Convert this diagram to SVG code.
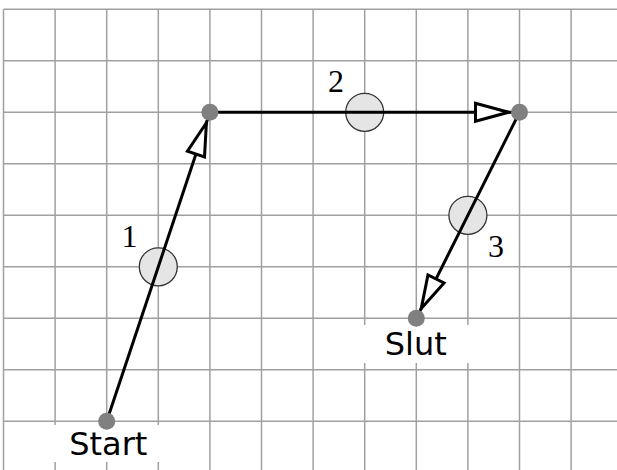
<svg xmlns="http://www.w3.org/2000/svg" width="617" height="470" viewBox="0 0 617 470">
<style>
.grid line{stroke:#a0a0a0;stroke-width:1.5}
.edge{stroke:#000;stroke-width:3;fill:none}
.mid{fill:#e5e5e5;stroke:#333;stroke-width:1.3}
.dot{fill:#808080}
.num{font-family:"Liberation Serif",serif;font-size:32px;fill:#000;text-anchor:middle}
.lbl{font-family:"DejaVu Sans",sans-serif;font-size:32px;fill:#000;text-anchor:middle}
</style>
<defs>
<marker id="arr" markerUnits="userSpaceOnUse" markerWidth="60" markerHeight="30" viewBox="-50 -15 60 30" refX="0" refY="0" orient="auto" overflow="visible">
<path d="M-11,0 L-44,-9 L-44,9 Z" fill="#fff" stroke="#000" stroke-width="3" stroke-linejoin="miter"/>
</marker>
</defs>
<rect width="617" height="470" fill="#fff"/>
<g class="grid">
<line x1="3.5" y1="9.3" x2="3.5" y2="470"/>
<line x1="55.1" y1="9.3" x2="55.1" y2="470"/>
<line x1="106.7" y1="9.3" x2="106.7" y2="470"/>
<line x1="158.3" y1="9.3" x2="158.3" y2="470"/>
<line x1="209.9" y1="9.3" x2="209.9" y2="470"/>
<line x1="261.5" y1="9.3" x2="261.5" y2="470"/>
<line x1="313.1" y1="9.3" x2="313.1" y2="470"/>
<line x1="364.7" y1="9.3" x2="364.7" y2="470"/>
<line x1="416.3" y1="9.3" x2="416.3" y2="470"/>
<line x1="467.9" y1="9.3" x2="467.9" y2="470"/>
<line x1="519.5" y1="9.3" x2="519.5" y2="470"/>
<line x1="571.1" y1="9.3" x2="571.1" y2="470"/>
<line x1="3.5" y1="9.3" x2="617" y2="9.3"/>
<line x1="3.5" y1="60.8" x2="617" y2="60.8"/>
<line x1="3.5" y1="112.3" x2="617" y2="112.3"/>
<line x1="3.5" y1="163.8" x2="617" y2="163.8"/>
<line x1="3.5" y1="215.3" x2="617" y2="215.3"/>
<line x1="3.5" y1="266.8" x2="617" y2="266.8"/>
<line x1="3.5" y1="318.3" x2="617" y2="318.3"/>
<line x1="3.5" y1="369.8" x2="617" y2="369.8"/>
<line x1="3.5" y1="421.3" x2="617" y2="421.3"/>
</g>
<rect x="53" y="425" width="107" height="37" fill="#fff"/>
<rect x="363" y="325" width="106" height="38" fill="#fff"/>
<g id="mids">
<circle class="mid" cx="158.3" cy="266.8" r="19"/>
<circle class="mid" cx="364.7" cy="112.3" r="19"/>
<circle class="mid" cx="467.9" cy="215.3" r="19"/>
</g>
<g id="connectors">
<line class="edge" x1="106.7" y1="421.3" x2="209.9" y2="112.3" marker-end="url(#arr)"/>
<line class="edge" x1="209.9" y1="112.3" x2="519.5" y2="112.3" marker-end="url(#arr)"/>
<line class="edge" x1="519.5" y1="112.3" x2="416.3" y2="318.3" marker-end="url(#arr)"/>
</g>
<g id="labels">
<text class="num" x="129.5" y="246.7">1</text>
<text class="num" x="336" y="91.7">2</text>
<text class="num" x="496" y="256.7">3</text>
</g>
<g id="start">
<circle class="dot" cx="106.7" cy="421.3" r="8.5"/>
<text class="lbl" x="108.3" y="455">Start</text>
</g>
<g id="p1"><circle class="dot" cx="209.9" cy="112.3" r="8.5"/></g>
<g id="p2"><circle class="dot" cx="519.5" cy="112.3" r="8.5"/></g>
<g id="slut">
<circle class="dot" cx="416.3" cy="318.3" r="8.5"/>
<text class="lbl" x="415.8" y="355">Slut</text>
</g>
</svg>
